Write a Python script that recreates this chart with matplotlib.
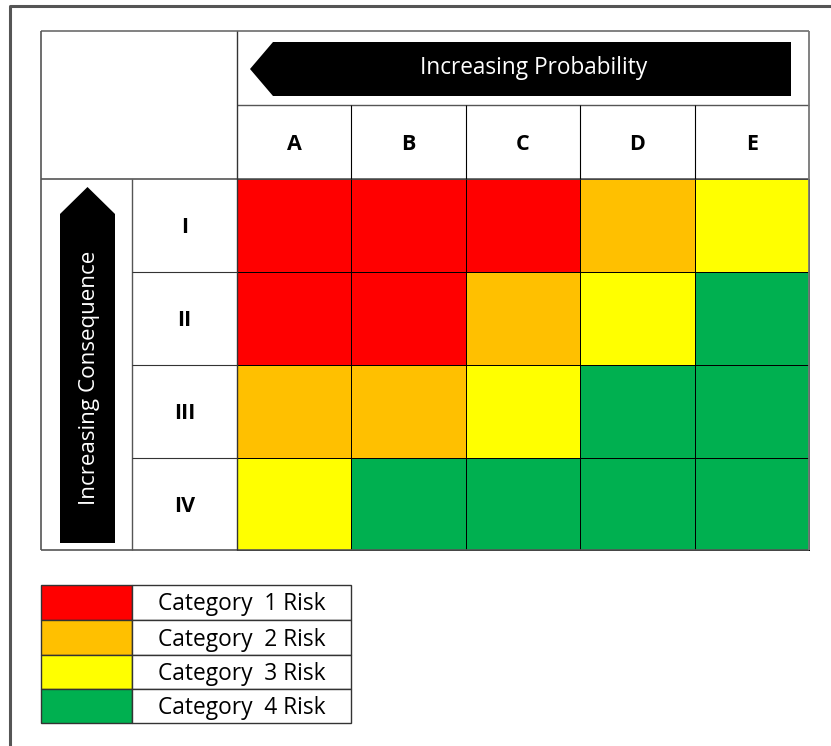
import numpy as np
import matplotlib
matplotlib.use("Agg")
import matplotlib.pyplot as plt
from matplotlib.colors import ListedColormap
from matplotlib.patches import Polygon, Rectangle

# data
prob_labels = ["A", "B", "C", "D", "E"]
cons_labels = ["I", "II", "III", "IV"]
# risk category per cell, rows = consequence I..IV, cols = probability A..E
risk = np.array([
    [1, 1, 1, 2, 3],
    [1, 1, 2, 3, 4],
    [2, 2, 3, 4, 4],
    [3, 4, 4, 4, 4],
])
cat_names = ["Category  1 Risk", "Category  2 Risk", "Category  3 Risk", "Category  4 Risk"]
cat_colors = ["#ff0000", "#ffc000", "#ffff00", "#00b050"]

# layout in pixels
W, H = 831, 746
col_edges = np.array([237, 351, 466, 580, 695, 809])
row_edges = np.array([179, 272, 365, 458, 550])
left_x, mid_x = 41, 132
top_y, hdr_y = 31, 105
line_c = "#3a3a3a"
fnt = "Open Sans"

fig = plt.figure(figsize=(W / 100, H / 100), dpi=100)
ax = fig.add_axes([0, 0, 1, 1])
ax.set_xlim(0, W)
ax.set_ylim(H, 0)
ax.axis("off")

# outer frame (runs off the right and bottom of the picture)
ax.plot([10, 10, W + 5], [H + 5, 6, 6], color="#555555", lw=2.2, solid_capstyle="butt")

# risk cells
cmap = ListedColormap(cat_colors)
ax.pcolormesh(col_edges, row_edges, risk, cmap=cmap, vmin=0.5, vmax=4.5,
              edgecolors="black", linewidth=0.6)

# header table lines
def hline(y, x0, x1, c=line_c, lw=1.0):
    ax.plot([x0, x1], [y, y], color=c, lw=lw, solid_capstyle="butt")

def vline(x, y0, y1, c=line_c, lw=1.0):
    ax.plot([x, x], [y0, y1], color=c, lw=lw, solid_capstyle="butt")

hline(top_y, left_x, col_edges[-1], c="#777777", lw=1.3)
hline(hdr_y, col_edges[0], col_edges[-1], c="#555555")
hline(row_edges[0], left_x, col_edges[-1], c="#555555", lw=1.2)
hline(row_edges[-1], left_x, col_edges[-1], c="#555555", lw=1.2)
vline(left_x, top_y, row_edges[-1], c="#555555", lw=1.2)
vline(col_edges[-1], top_y, row_edges[-1], c="#777777", lw=1.3)
vline(col_edges[0], top_y, row_edges[-1], c="#333333")
vline(mid_x, row_edges[0], row_edges[-1], c="#555555")
for x in col_edges[1:-1]:
    vline(x, hdr_y, row_edges[0], c="black", lw=0.8)
for y in row_edges[1:-1]:
    hline(y, mid_x, col_edges[0], c="#333333", lw=0.8)

# column and row labels
for i, lab in enumerate(prob_labels):
    ax.text((col_edges[i] + col_edges[i + 1]) / 2, (hdr_y + row_edges[0]) / 2 + 3, lab,
            ha="center", va="center", fontsize=15.5, fontweight="bold", family=fnt)
for j, lab in enumerate(cons_labels):
    ax.text((mid_x + col_edges[0]) / 2, (row_edges[j] + row_edges[j + 1]) / 2 + 2, lab,
            ha="center", va="center", fontsize=15.5, fontweight="bold", family=fnt)

# arrows
ax.add_patch(Polygon([[250, 69], [273, 42], [791, 42], [791, 96], [273, 96]],
                     closed=True, fc="black", ec="none"))
ax.text(534, 68, "Increasing Probability", color="white", ha="center", va="center",
        fontsize=16.3, family=fnt)
ax.add_patch(Polygon([[87.5, 187], [115, 214], [115, 543], [60, 543], [60, 214]],
                     closed=True, fc="black", ec="none"))
ax.text(89, 378, "Increasing Consequence", color="white", ha="center", va="center",
        fontsize=16.1, family=fnt, rotation=90)

# legend table
leg_edges = np.array([585, 620, 655, 689, 723])
for k in range(len(cat_names)):
    y0, y1 = leg_edges[k], leg_edges[k + 1]
    ax.add_patch(Rectangle((left_x, y0), mid_x - left_x, y1 - y0, fc=cat_colors[k],
                           ec="#333333", lw=1.0))
    ax.add_patch(Rectangle((mid_x, y0), 351 - mid_x, y1 - y0, fc="white",
                           ec="#333333", lw=1.0))
    ax.text(242, (y0 + y1) / 2 + 2, cat_names[k], ha="center", va="center",
            fontsize=16.4, family=fnt)

fig.savefig("out.png", dpi=100)
